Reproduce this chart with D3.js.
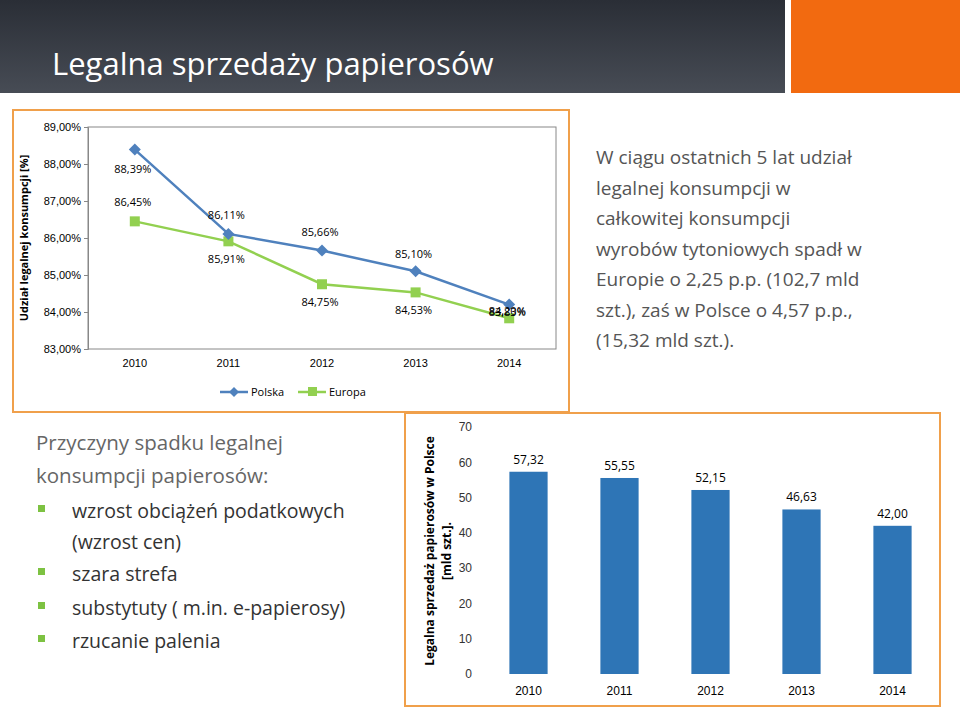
<!DOCTYPE html><html><head><meta charset="utf-8"><script src="https://cdn.jsdelivr.net/npm/d3@7"></script>
<style>body{margin:0;background:#fff}svg{display:block;font-family:"Open Sans",sans-serif}</style></head><body>
<svg id="c" width="960" height="712"></svg>
<script>
const years=["2010","2011","2012","2013","2014"];
const polska=[88.39,86.11,85.66,85.10,84.20];
const europa=[86.45,85.91,84.75,84.53,83.83];
const pctTicks=[83,84,85,86,87,88,89];
const sales=[57.32,55.55,52.15,46.63,42.00];
const barTicks=[0,10,20,30,40,50,60,70];
const fmt=v=>v.toFixed(2).replace(".",",");
const svg=d3.select("#c");
const g0=svg.append("defs").append("linearGradient").attr("id","hg").attr("x1",0).attr("x2",0).attr("y1",0).attr("y2",1);
g0.append("stop").attr("offset",0).attr("stop-color","#2a2e36");g0.append("stop").attr("offset",1).attr("stop-color","#474c55");
svg.append("rect").attr("width",785).attr("height",93).attr("fill","url(#hg)");
svg.append("rect").attr("x",791).attr("width",169).attr("height",93).attr("fill","#f26a10");
svg.append("text").attr("x",52).attr("y",75).attr("fill","#fff").attr("font-size",31).attr("font-family","'Liberation Sans Narrow','Open Sans',sans-serif").text("Legalna sprzedaży papierosów");
// line chart
svg.append("rect").attr("x",13).attr("y",110).attr("width",556).attr("height",302).attr("fill","#fff").attr("stroke","#f0a04b").attr("stroke-width",2);
const x=d3.scaleBand().domain(years).range([88,556]);
const y=d3.scaleLinear().domain([83,89]).range([349,127]);
svg.append("rect").attr("x",88).attr("y",127).attr("width",468).attr("height",222).attr("fill","none").attr("stroke","#888");
svg.append("g").attr("transform","translate(88,0)").call(d3.axisLeft(y).tickValues(pctTicks).tickSize(4).tickFormat(v=>v.toFixed(2).replace(".",",")+"%"))
 .call(g=>{g.select(".domain").attr("stroke","#888");g.selectAll("text").attr("font-size",11).attr("fill","#000");g.selectAll("line").attr("stroke","#888")});
svg.append("g").attr("transform","translate(0,349)").call(d3.axisBottom(x).tickSize(0).tickPadding(10))
 .call(g=>{g.select(".domain").remove();g.selectAll("text").attr("font-size",11).attr("fill","#000")});
svg.append("text").attr("transform","translate(28,238) rotate(-90)").attr("text-anchor","middle").attr("font-size",11).attr("font-weight","bold").text("Udział legalnej konsumpcji  [%]");
const cx=d=>x(d)+x.bandwidth()/2;
const line=d3.line().x((d,i)=>cx(years[i])).y(d=>y(d));
svg.append("path").attr("d",line(europa)).attr("fill","none").attr("stroke","#92d050").attr("stroke-width",2.5);
svg.append("path").attr("d",line(polska)).attr("fill","none").attr("stroke","#4f81bd").attr("stroke-width",2.5);
svg.selectAll(".em").data(europa).join("rect").attr("x",(d,i)=>cx(years[i])-5).attr("y",d=>y(d)-5).attr("width",10).attr("height",10).attr("fill","#92d050");
svg.selectAll(".pm").data(polska).join("path").attr("transform",(d,i)=>`translate(${cx(years[i])},${y(d)})`).attr("d","M0,-6L6,0L0,6L-6,0Z").attr("fill","#4f81bd");
const pOff=[[-2,23],[-2,-15],[-2,-15],[-2,-13],[-2,10]];
const eOff=[[-2,-15],[-2,22],[-2,22],[-2,22],[-2,-2]];
svg.selectAll(".pl").data(polska).join("text").attr("x",(d,i)=>cx(years[i])+pOff[i][0]).attr("y",(d,i)=>y(d)+pOff[i][1]).attr("text-anchor","middle").attr("font-size",11).text(d=>fmt(d)+"%");
svg.selectAll(".el").data(europa).join("text").attr("x",(d,i)=>cx(years[i])+eOff[i][0]).attr("y",(d,i)=>y(d)+eOff[i][1]).attr("text-anchor","middle").attr("font-size",11).text(d=>fmt(d)+"%");
svg.append("line").attr("x1",220).attr("x2",248).attr("y1",392).attr("y2",392).attr("stroke","#4f81bd").attr("stroke-width",2.5);
svg.append("path").attr("transform","translate(234,392)").attr("d","M0,-5L5,0L0,5L-5,0Z").attr("fill","#4f81bd");
svg.append("text").attr("x",251).attr("y",396).attr("font-size",11).text("Polska");
svg.append("line").attr("x1",298).attr("x2",326).attr("y1",392).attr("y2",392).attr("stroke","#92d050").attr("stroke-width",2.5);
svg.append("rect").attr("x",308).attr("y",387).attr("width",9).attr("height",9).attr("fill","#92d050");
svg.append("text").attr("x",329).attr("y",396).attr("font-size",11).text("Europa");
const rt=["W ciągu ostatnich 5 lat udział","legalnej konsumpcji w","całkowitej konsumpcji","wyrobów tytoniowych spadł w","Europie o 2,25 p.p. (102,7 mld","szt.), zaś w Polsce o 4,57 p.p.,","(15,32 mld szt.)."];
svg.append("g").selectAll("text").data(rt).join("text").attr("x",596).attr("y",(d,i)=>164+i*30.5).attr("font-size",19).attr("fill","#555").text(d=>d);
svg.append("text").attr("x",36).attr("y",450).attr("font-size",20.5).attr("fill","#666").text("Przyczyny spadku legalnej");
svg.append("text").attr("x",36).attr("y",483).attr("font-size",20.5).attr("fill","#666").text("konsumpcji papierosów:");
const bl=[["wzrost obciążeń podatkowych",518,true],["(wzrost cen)",549,false],["szara strefa",581,true],["substytuty ( m.in. e-papierosy)",615,true],["rzucanie palenia",648,true]];
bl.forEach(b=>{svg.append("text").attr("x",72).attr("y",b[1]).attr("font-size",19.5).attr("fill","#333").text(b[0]);
 if(b[2])svg.append("rect").attr("x",38).attr("y",b[1]-13).attr("width",7).attr("height",7).attr("fill","#7dc242");});
// bar chart
svg.append("rect").attr("x",405).attr("y",413).attr("width",535).attr("height",293).attr("fill","#fff").attr("stroke","#f0a04b").attr("stroke-width",2);
const bx=d3.scaleBand().domain(years).range([483,938]).paddingInner(0.58).paddingOuter(0.29);
const by=d3.scaleLinear().domain([0,70]).range([674,427]);
svg.append("g").attr("transform","translate(476,0)").call(d3.axisLeft(by).tickValues(barTicks).tickSize(0).tickPadding(4))
 .call(g=>{g.select(".domain").remove();g.selectAll("text").attr("font-size",12).attr("fill","#333")});
svg.append("g").attr("transform","translate(0,674)").call(d3.axisBottom(bx).tickSize(0).tickPadding(12))
 .call(g=>{g.select(".domain").remove();g.selectAll("text").attr("font-size",12).attr("fill","#000")});
svg.selectAll(".bar").data(sales).join("rect").attr("x",(d,i)=>bx(years[i])).attr("y",d=>by(d)).attr("width",bx.bandwidth()).attr("height",d=>674-by(d)).attr("fill","#2e75b6");
svg.selectAll(".bl").data(sales).join("text").attr("x",(d,i)=>bx(years[i])+bx.bandwidth()/2).attr("y",d=>by(d)-8).attr("text-anchor","middle").attr("font-size",12).text(fmt);
const yl=svg.append("text").attr("transform","translate(434,551) rotate(-90)").attr("text-anchor","middle").attr("font-size",12).attr("font-weight","bold");
yl.append("tspan").attr("x",0).attr("dy",0).text("Legalna sprzedaż papierosów w Polsce");
yl.append("tspan").attr("x",0).attr("dy",17).text("[mld szt.].");
</script></body></html>
